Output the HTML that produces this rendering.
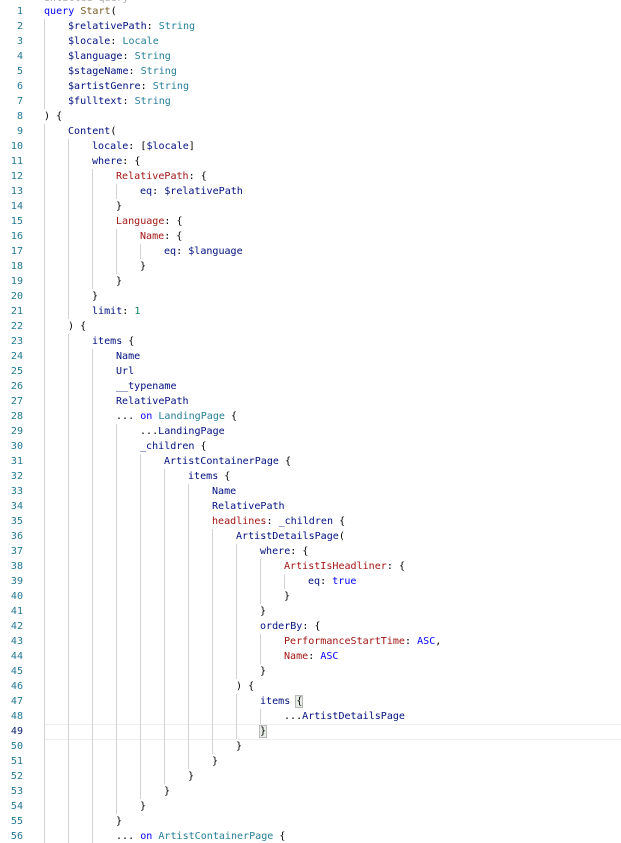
<!DOCTYPE html>
<html><head><meta charset="utf-8"><style>
html,body{margin:0;padding:0;background:#fff;width:621px;height:843px;overflow:hidden;position:relative}
#w{position:absolute;left:0;top:1px;width:621px;height:843px}
.l{position:absolute;left:0;height:15px;line-height:15px;width:621px;font-family:"DejaVu Sans Mono","Liberation Mono",monospace;font-size:10.05px;white-space:pre;color:#000}
.n{position:absolute;left:0;width:23px;text-align:right;color:#237893}
.c{position:absolute;left:44px;top:0}
.g{display:inline-block;height:15px;vertical-align:top;background:repeating-linear-gradient(to right,#d3d3d3 0 1px,transparent 1px 24px)}
.k{color:#0000ff}.v{color:#001080}.t{color:#267f99}.r{color:#a31515}.num{color:#098658}.f{color:#795e26}
.b{outline:1px solid #b9b9b9;background:#e6ece6}
</style></head><body><div id="w">
<div class="l" style="top:-10px"><span class="c" style="color:#aaa">Untitled query</span></div>
<div style="position:absolute;left:44px;top:723px;width:577px;height:14px;border-top:1px solid #eee;border-bottom:1px solid #eee"></div>

<div class="l" style="top:3px"><span class="n">1</span><span class="c"><span class="k">query</span> <span class="f">Start</span>(</span></div>
<div class="l" style="top:18px"><span class="n">2</span><span class="c"><span class="g" style="width:24px"></span><span class="v">$relativePath</span>: <span class="t">String</span></span></div>
<div class="l" style="top:33px"><span class="n">3</span><span class="c"><span class="g" style="width:24px"></span><span class="v">$locale</span>: <span class="t">Locale</span></span></div>
<div class="l" style="top:48px"><span class="n">4</span><span class="c"><span class="g" style="width:24px"></span><span class="v">$language</span>: <span class="t">String</span></span></div>
<div class="l" style="top:63px"><span class="n">5</span><span class="c"><span class="g" style="width:24px"></span><span class="v">$stageName</span>: <span class="t">String</span></span></div>
<div class="l" style="top:78px"><span class="n">6</span><span class="c"><span class="g" style="width:24px"></span><span class="v">$artistGenre</span>: <span class="t">String</span></span></div>
<div class="l" style="top:93px"><span class="n">7</span><span class="c"><span class="g" style="width:24px"></span><span class="v">$fulltext</span>: <span class="t">String</span></span></div>
<div class="l" style="top:108px"><span class="n">8</span><span class="c">) {</span></div>
<div class="l" style="top:123px"><span class="n">9</span><span class="c"><span class="g" style="width:24px"></span><span class="v">Content</span>(</span></div>
<div class="l" style="top:138px"><span class="n">10</span><span class="c"><span class="g" style="width:48px"></span><span class="v">locale</span>: [<span class="v">$locale</span>]</span></div>
<div class="l" style="top:153px"><span class="n">11</span><span class="c"><span class="g" style="width:48px"></span><span class="v">where</span>: {</span></div>
<div class="l" style="top:168px"><span class="n">12</span><span class="c"><span class="g" style="width:72px"></span><span class="r">RelativePath</span>: {</span></div>
<div class="l" style="top:183px"><span class="n">13</span><span class="c"><span class="g" style="width:96px"></span><span class="v">eq</span>: <span class="v">$relativePath</span></span></div>
<div class="l" style="top:198px"><span class="n">14</span><span class="c"><span class="g" style="width:72px"></span>}</span></div>
<div class="l" style="top:213px"><span class="n">15</span><span class="c"><span class="g" style="width:72px"></span><span class="r">Language</span>: {</span></div>
<div class="l" style="top:228px"><span class="n">16</span><span class="c"><span class="g" style="width:96px"></span><span class="r">Name</span>: {</span></div>
<div class="l" style="top:243px"><span class="n">17</span><span class="c"><span class="g" style="width:120px"></span><span class="v">eq</span>: <span class="v">$language</span></span></div>
<div class="l" style="top:258px"><span class="n">18</span><span class="c"><span class="g" style="width:96px"></span>}</span></div>
<div class="l" style="top:273px"><span class="n">19</span><span class="c"><span class="g" style="width:72px"></span>}</span></div>
<div class="l" style="top:288px"><span class="n">20</span><span class="c"><span class="g" style="width:48px"></span>}</span></div>
<div class="l" style="top:303px"><span class="n">21</span><span class="c"><span class="g" style="width:48px"></span><span class="v">limit</span>: <span class="num">1</span></span></div>
<div class="l" style="top:318px"><span class="n">22</span><span class="c"><span class="g" style="width:24px"></span>) {</span></div>
<div class="l" style="top:333px"><span class="n">23</span><span class="c"><span class="g" style="width:48px"></span><span class="v">items</span> {</span></div>
<div class="l" style="top:348px"><span class="n">24</span><span class="c"><span class="g" style="width:72px"></span><span class="v">Name</span></span></div>
<div class="l" style="top:363px"><span class="n">25</span><span class="c"><span class="g" style="width:72px"></span><span class="v">Url</span></span></div>
<div class="l" style="top:378px"><span class="n">26</span><span class="c"><span class="g" style="width:72px"></span><span class="v">__typename</span></span></div>
<div class="l" style="top:393px"><span class="n">27</span><span class="c"><span class="g" style="width:72px"></span><span class="v">RelativePath</span></span></div>
<div class="l" style="top:408px"><span class="n">28</span><span class="c"><span class="g" style="width:72px"></span>... <span class="k">on</span> <span class="t">LandingPage</span> {</span></div>
<div class="l" style="top:423px"><span class="n">29</span><span class="c"><span class="g" style="width:96px"></span>...<span class="v">LandingPage</span></span></div>
<div class="l" style="top:438px"><span class="n">30</span><span class="c"><span class="g" style="width:96px"></span><span class="v">_children</span> {</span></div>
<div class="l" style="top:453px"><span class="n">31</span><span class="c"><span class="g" style="width:120px"></span><span class="v">ArtistContainerPage</span> {</span></div>
<div class="l" style="top:468px"><span class="n">32</span><span class="c"><span class="g" style="width:144px"></span><span class="v">items</span> {</span></div>
<div class="l" style="top:483px"><span class="n">33</span><span class="c"><span class="g" style="width:168px"></span><span class="v">Name</span></span></div>
<div class="l" style="top:498px"><span class="n">34</span><span class="c"><span class="g" style="width:168px"></span><span class="v">RelativePath</span></span></div>
<div class="l" style="top:513px"><span class="n">35</span><span class="c"><span class="g" style="width:168px"></span><span class="r">headlines</span>: <span class="v">_children</span> {</span></div>
<div class="l" style="top:528px"><span class="n">36</span><span class="c"><span class="g" style="width:192px"></span><span class="v">ArtistDetailsPage</span>(</span></div>
<div class="l" style="top:543px"><span class="n">37</span><span class="c"><span class="g" style="width:216px"></span><span class="v">where</span>: {</span></div>
<div class="l" style="top:558px"><span class="n">38</span><span class="c"><span class="g" style="width:240px"></span><span class="r">ArtistIsHeadliner</span>: {</span></div>
<div class="l" style="top:573px"><span class="n">39</span><span class="c"><span class="g" style="width:264px"></span><span class="v">eq</span>: <span class="k">true</span></span></div>
<div class="l" style="top:588px"><span class="n">40</span><span class="c"><span class="g" style="width:240px"></span>}</span></div>
<div class="l" style="top:603px"><span class="n">41</span><span class="c"><span class="g" style="width:216px"></span>}</span></div>
<div class="l" style="top:618px"><span class="n">42</span><span class="c"><span class="g" style="width:216px"></span><span class="v">orderBy</span>: {</span></div>
<div class="l" style="top:633px"><span class="n">43</span><span class="c"><span class="g" style="width:240px"></span><span class="r">PerformanceStartTime</span>: <span class="k">ASC</span>,</span></div>
<div class="l" style="top:648px"><span class="n">44</span><span class="c"><span class="g" style="width:240px"></span><span class="r">Name</span>: <span class="k">ASC</span></span></div>
<div class="l" style="top:663px"><span class="n">45</span><span class="c"><span class="g" style="width:216px"></span>}</span></div>
<div class="l" style="top:678px"><span class="n">46</span><span class="c"><span class="g" style="width:192px"></span>) {</span></div>
<div class="l" style="top:693px"><span class="n">47</span><span class="c"><span class="g" style="width:216px"></span><span class="v">items</span> <span class="b">{</span></span></div>
<div class="l" style="top:708px"><span class="n">48</span><span class="c"><span class="g" style="width:240px"></span>...<span class="v">ArtistDetailsPage</span></span></div>
<div class="l" style="top:723px"><span class="n" style="color:#0b216f">49</span><span class="c"><span class="g" style="width:216px"></span><span class="b">}</span></span></div>
<div class="l" style="top:738px"><span class="n">50</span><span class="c"><span class="g" style="width:192px"></span>}</span></div>
<div class="l" style="top:753px"><span class="n">51</span><span class="c"><span class="g" style="width:168px"></span>}</span></div>
<div class="l" style="top:768px"><span class="n">52</span><span class="c"><span class="g" style="width:144px"></span>}</span></div>
<div class="l" style="top:783px"><span class="n">53</span><span class="c"><span class="g" style="width:120px"></span>}</span></div>
<div class="l" style="top:798px"><span class="n">54</span><span class="c"><span class="g" style="width:96px"></span>}</span></div>
<div class="l" style="top:813px"><span class="n">55</span><span class="c"><span class="g" style="width:72px"></span>}</span></div>
<div class="l" style="top:828px"><span class="n">56</span><span class="c"><span class="g" style="width:72px"></span>... <span class="k">on</span> <span class="t">ArtistContainerPage</span> {</span></div>
</div></body></html>
